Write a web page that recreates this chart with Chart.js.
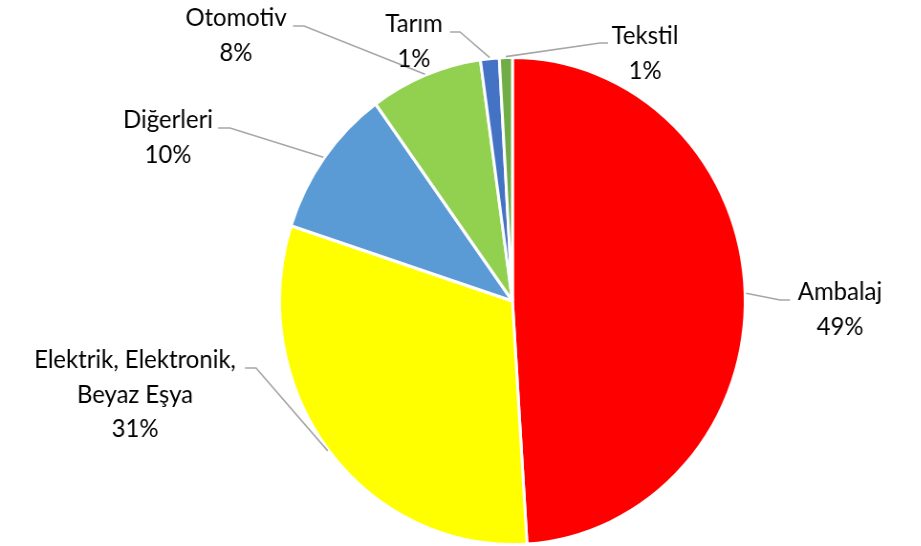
<!DOCTYPE html>
<html>
<head>
<meta charset="utf-8">
<script src="https://cdn.jsdelivr.net/npm/chart.js@4"></script>
<style>
  html, body { margin: 0; padding: 0; background: #ffffff; overflow: hidden; }
  #wrap { width: 921px; height: 546px; overflow: hidden; position: relative; }
  #c { position: absolute; left: 0; top: 0; transform: scaleX(0.956); transform-origin: 0 0; }
</style>
</head>
<body>
<div id="wrap"><canvas id="c" width="964" height="546"></canvas></div>
<script>
// ---- data ----
const categories = ['Ambalaj', 'Elektrik, Elektronik, Beyaz Eşya', 'Diğerleri', 'Otomotiv', 'Tarım', 'Tekstil'];
const labelLines = [['Ambalaj'], ['Elektrik, Elektronik,', 'Beyaz Eşya'], ['Diğerleri'], ['Otomotiv'], ['Tarım'], ['Tekstil']];
const shares = [49.0, 31.0, 10.0, 7.8, 1.3, 0.9];
const sliceColors = ['#FF0000', '#FFFF00', '#5B9BD5', '#92D050', '#4472C4', '#70AD47'];

// ---- label layout (page pixels): text centre x, first baseline, leader elbow and end ----
const SX = 0.956;
const labelLayout = [
  { cx: 840, base: 300, elbow: [780, 300], end: [790, 300] },
  { cx: 135, base: 368, elbow: [256, 368], end: [245, 368] },
  { cx: 168, base: 128, elbow: [230, 128], end: [218, 128] },
  { cx: 236, base: 26,  elbow: [304, 26],  end: [293, 26] },
  { cx: 414, base: 32,  elbow: [460, 32],  end: [450, 32] },
  { cx: 645, base: 44,  elbow: [600, 43],  end: [608, 43] }
];
const lineGap = 34.5;

const total = shares.reduce((a, b) => a + b, 0);

const labelPlugin = {
  id: 'excelLabels',
  afterDatasetsDraw(chart) {
    const ctx = chart.ctx;
    const meta = chart.getDatasetMeta(0);
    ctx.save();
    meta.data.forEach((arc, i) => {
      const p = arc.getProps(['x', 'y', 'startAngle', 'endAngle', 'outerRadius'], true);
      const mid = (p.startAngle + p.endAngle) / 2;
      const r = p.outerRadius + 1;
      const ax = p.x + r * Math.cos(mid);
      const ay = p.y + r * Math.sin(mid);
      const L = labelLayout[i];
      ctx.beginPath();
      ctx.strokeStyle = '#A6A6A6';
      ctx.lineWidth = 1.6;
      ctx.moveTo(ax, ay);
      ctx.lineTo(L.elbow[0] / SX, L.elbow[1]);
      ctx.lineTo(L.end[0] / SX, L.end[1]);
      ctx.stroke();

      const lines = labelLines[i].concat([Math.round(shares[i] / total * 100) + '%']);
      ctx.fillStyle = '#000000';
      ctx.font = '25px Lato';
      ctx.textAlign = 'center';
      ctx.textBaseline = 'alphabetic';
      lines.forEach((t, k) => {
        ctx.fillText(t, L.cx / SX, L.base + k * lineGap);
      });
    });
    ctx.restore();
  }
};

new Chart(document.getElementById('c'), {
  type: 'pie',
  data: {
    labels: categories,
    datasets: [{
      data: shares,
      backgroundColor: sliceColors,
      borderColor: '#FFFFFF',
      borderWidth: 3
    }]
  },
  options: {
    responsive: false,
    animation: false,
    layout: { padding: { top: 56, bottom: 0, left: 108, right: 0 } },
    plugins: {
      legend: { display: false },
      tooltip: { enabled: false },
      title: { display: false }
    }
  },
  plugins: [labelPlugin]
});
</script>
</body>
</html>
